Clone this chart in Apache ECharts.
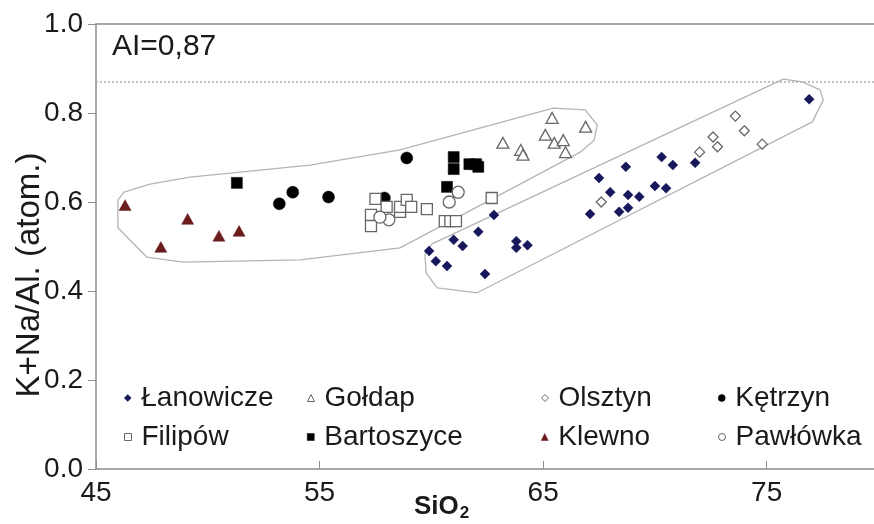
<!DOCTYPE html>
<html>
<head>
<meta charset="utf-8">
<script src="https://cdn.jsdelivr.net/npm/echarts@6/dist/echarts.min.js"></script>
<style>
  html, body { margin: 0; padding: 0; background: #ffffff; }
  #chart { width: 874px; height: 524px; }
</style>
</head>
<body>
<div id="chart"></div>
<script>
// SiO2 (wt.%) versus alkali ratio K+Na/Al (atomic) for each locality
const lanowicze = [
  [76.9, 0.831], [70.3, 0.701], [70.8, 0.683], [71.8, 0.688], [68.7, 0.679],
  [67.5, 0.654], [68.0, 0.622], [68.8, 0.616], [69.3, 0.612], [70.0, 0.636],
  [70.5, 0.631], [67.1, 0.573], [68.4, 0.578], [68.8, 0.587], [62.8, 0.571],
  [62.1, 0.533], [61.0, 0.515], [61.4, 0.501], [59.9, 0.490], [60.2, 0.467],
  [60.7, 0.456], [62.4, 0.438], [63.8, 0.512], [63.8, 0.497], [64.3, 0.503]
];
const goldap = [
  [65.4, 0.789], [66.9, 0.769], [63.2, 0.733], [64.0, 0.717], [64.1, 0.706],
  [65.1, 0.751], [65.5, 0.733], [65.9, 0.739], [66.0, 0.712]
];
const olsztyn = [
  [67.6, 0.600], [72.0, 0.712], [72.6, 0.746], [72.8, 0.724], [73.6, 0.793],
  [74.0, 0.760], [74.8, 0.730]
];
const ketrzyn = [
  [53.2, 0.596], [53.8, 0.622], [55.4, 0.611], [57.9, 0.609], [58.9, 0.699]
];
const filipow = [
  [57.5, 0.607], [57.3, 0.571], [57.3, 0.546], [58.0, 0.589], [58.6, 0.578],
  [58.6, 0.589], [58.9, 0.605], [59.1, 0.589], [59.8, 0.584], [60.6, 0.557],
  [60.85, 0.557], [61.1, 0.557], [62.7, 0.609]
];
const bartoszyce = [
  [51.3, 0.643], [61.0, 0.701], [61.0, 0.674], [61.7, 0.685], [62.0, 0.685],
  [62.1, 0.679], [60.7, 0.634]
];
const klewno = [
  [46.3, 0.593], [47.9, 0.499], [49.1, 0.562], [50.5, 0.524], [51.4, 0.535]
];
const pawlowka = [
  [61.2, 0.622], [60.8, 0.600], [58.1, 0.560], [57.7, 0.566]
];

// Outlines of the two compositional fields
const westField = [
  [45.98, 0.604], [46.25, 0.622], [47.42, 0.640], [49.21, 0.656], [54.57, 0.683],
  [58.6, 0.717], [65.45, 0.811], [66.88, 0.807], [67.42, 0.773], [67.28, 0.739],
  [66.66, 0.712], [58.6, 0.497], [54.13, 0.470], [48.9, 0.465], [47.28, 0.476],
  [45.98, 0.542], [45.98, 0.604]
];
const eastField = [
  [59.72, 0.485], [60.03, 0.506], [75.74, 0.876], [76.59, 0.870], [77.39, 0.852],
  [77.53, 0.829], [77.04, 0.780], [62.05, 0.396], [60.26, 0.407], [59.77, 0.440],
  [59.72, 0.474], [59.72, 0.485]
];

// Alkalinity index threshold and axis ticks
const AI_LIMIT = 0.87;
const xTicks = [45, 55, 65, 75];
const yTicks = [0, 0.2, 0.4, 0.6, 0.8, 1.0];

const FONT = '"Liberation Sans", Arial, Helvetica, sans-serif';
const GREY = '#666666';
const AXIS = '#8c8c8c';
const INK = '#1a1a1a';

const groups = [
  { name: 'Łanowicze', data: lanowicze, symbol: 'diamond', size: 10, color: '#17175c', border: '#17175c', col: 0, row: 0 },
  { name: 'Gołdap', data: goldap, symbol: 'triangle', size: 12, color: '#ffffff', border: GREY, col: 1, row: 0 },
  { name: 'Olsztyn', data: olsztyn, symbol: 'diamond', size: 10, color: '#ffffff', border: GREY, col: 2, row: 0 },
  { name: 'Kętrzyn', data: ketrzyn, symbol: 'circle', size: 12, color: '#000000', border: '#000000', col: 3, row: 0 },
  { name: 'Filipów', data: filipow, symbol: 'rect', size: 11, color: '#ffffff', border: GREY, col: 0, row: 1 },
  { name: 'Bartoszyce', data: bartoszyce, symbol: 'rect', size: 11, color: '#000000', border: '#000000', col: 1, row: 1 },
  { name: 'Klewno', data: klewno, symbol: 'triangle', size: 12, color: '#6b1c1f', border: '#6b1c1f', col: 2, row: 1 },
  { name: 'Pawłówka', data: pawlowka, symbol: 'circle', size: 12, color: '#ffffff', border: GREY, col: 3, row: 1 }
];

const colLeft = [124, 307, 541, 718];
const rowTop = [383, 422];

const fieldLine = (data) => ({
  type: 'line',
  data: data,
  showSymbol: false,
  silent: true,
  z: 1,
  lineStyle: { color: '#b4b4b4', width: 1.3 },
  animation: false
});

const series = [fieldLine(westField), fieldLine(eastField)];
series[0].markLine = {
  silent: true,
  symbol: 'none',
  label: { show: false },
  lineStyle: { color: '#b0b0b0', type: [2, 2], width: 1.5 },
  data: [{ yAxis: AI_LIMIT }],
  animation: false
};

groups.forEach(g => {
  series.push({
    type: 'scatter',
    name: g.name,
    data: g.data,
    symbol: g.symbol,
    symbolSize: g.symbol === 'triangle' ? [g.size, g.size * 0.9] : g.size,
    z: 3,
    itemStyle: {
      color: g.color,
      borderColor: g.border,
      borderWidth: g.color === '#ffffff' ? 1.3 : 0.5,
      opacity: 1
    },
    animation: false
  });
});

const legends = groups.map(g => ({
  data: [{ name: g.name, itemStyle: { borderWidth: g.color === '#ffffff' ? 1 : 0.5 } }],
  left: colLeft[g.col],
  top: rowTop[g.row],
  padding: 0,
  itemWidth: 7,
  itemHeight: 7,
  itemGap: 0,
  selectedMode: false,
  textStyle: { fontFamily: FONT, fontSize: 28, color: INK, padding: [0, 0, 0, 5], lineHeight: 30 }
}));

const chart = echarts.init(document.getElementById('chart'), null, { renderer: 'canvas' });
chart.setOption({
  backgroundColor: '#ffffff',
  animation: false,
  grid: { left: 96, right: 0, top: 24, bottom: 55 },
  legend: legends,
  xAxis: [
    {
      type: 'value',
      min: 45, max: 79.8, interval: 10,
      axisLine: { show: true, lineStyle: { color: AXIS, width: 1.5 } },
      axisTick: { show: true, inside: true, length: 8, customValues: xTicks, lineStyle: { color: AXIS } },
      axisLabel: { customValues: xTicks, margin: 10, fontFamily: FONT, fontSize: 28, color: INK },
      splitLine: { show: false }
    },
    {
      // top frame line of the plot area
      type: 'value', position: 'top',
      min: 45, max: 79.8,
      axisLine: { show: true, lineStyle: { color: AXIS, width: 1.5 } },
      axisTick: { show: false }, axisLabel: { show: false }, splitLine: { show: false }
    }
  ],
  yAxis: {
    type: 'value',
    min: 0, max: 1, interval: 0.2,
    axisLine: { show: true, lineStyle: { color: AXIS, width: 1.5 } },
    axisTick: { show: true, inside: false, length: 8, customValues: yTicks, lineStyle: { color: AXIS } },
    axisLabel: {
      customValues: yTicks, margin: 13, fontFamily: FONT, fontSize: 28, color: INK,
      formatter: v => v.toFixed(1)
    },
    splitLine: { show: false }
  },
  graphic: [
    {
      type: 'text', x: 30, y: 275, rotation: Math.PI / 2, silent: true,
      style: { text: 'K+Na/Al. (atom.)', font: '33px ' + FONT, fill: INK, align: 'center', verticalAlign: 'middle' }
    },
    {
      type: 'text', left: 112, top: 32, silent: true,
      style: { text: 'AI=' + AI_LIMIT.toFixed(2).replace('.', ','), font: '30px ' + FONT, fill: INK }
    },
    {
      type: 'text', left: 414, top: 494, silent: true,
      style: {
        text: 'SiO{sub|2}',
        font: 'bold 26px ' + FONT, fill: INK,
        rich: { sub: { font: 'bold 17px ' + FONT, fill: INK, verticalAlign: 'bottom', padding: [12, 0, 0, 1] } }
      }
    }
  ],
  series: series
});
</script>
</body>
</html>
